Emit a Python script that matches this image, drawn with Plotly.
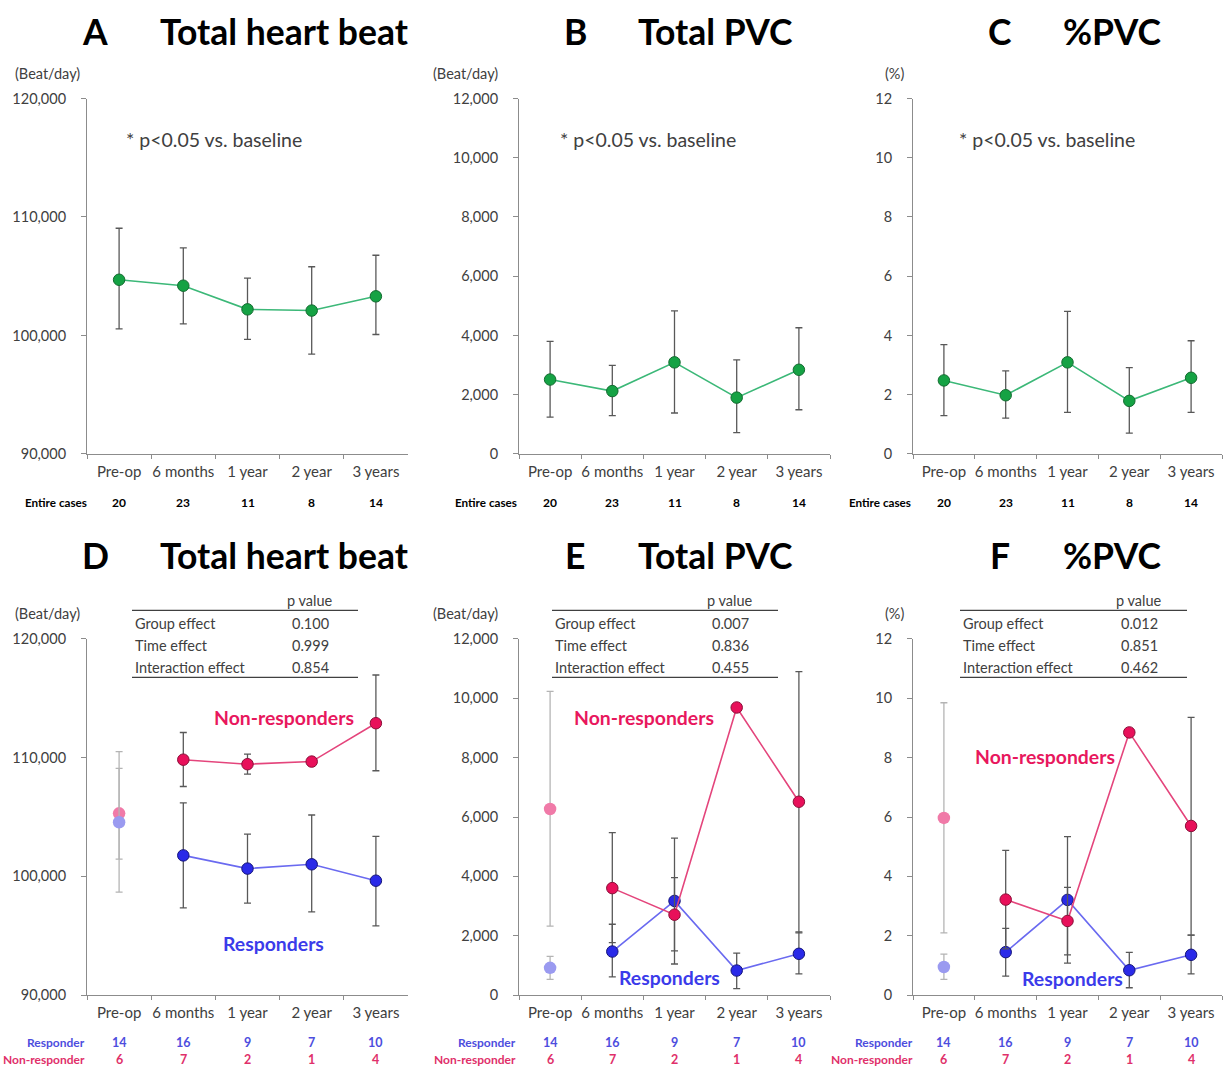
import plotly.graph_objects as go

W, H = 1223, 1077

categories = ["Pre-op", "6 months", "1 year", "2 year", "3 years"]
entire_n = [20, 23, 11, 8, 14]
responder_n = [14, 16, 9, 7, 10]
nonresponder_n = [6, 7, 2, 1, 4]

# Panel A - Total heart beat (entire cases)
hb_mean = [104700, 104200, 102200, 102100, 103300]
hb_upper = [109050, 107400, 104830, 105800, 106770]
hb_lower = [100550, 100970, 99670, 98420, 100080]
# Panel B - Total PVC
pvc_mean = [2510, 2120, 3090, 1900, 2840]
pvc_upper = [3800, 2990, 4830, 3175, 4260]
pvc_lower = [1240, 1290, 1380, 720, 1490]
# Panel C - %PVC
ppvc_mean = [2.48, 1.98, 3.09, 1.79, 2.57]
ppvc_upper = [3.69, 2.80, 4.81, 2.91, 3.82]
ppvc_lower = [1.29, 1.21, 1.40, 0.70, 1.40]

# Panel D - Total heart beat by group
hb_r_mean = [104560, 101770, 100660, 101020, 99640]
hb_r_upper = [109090, 106190, 103560, 105170, 103370]
hb_r_lower = [101450, 97350, 97760, 97020, 95830]
hb_nr_mean = [105310, 109830, 109450, 109670, 112900]
hb_nr_upper = [110500, 112120, 110300, 109670, 116960]
hb_nr_lower = [98680, 107570, 108620, 109670, 108900]
# Panel E - Total PVC by group
pvc_r_mean = [920, 1470, 3175, 830, 1394]
pvc_r_upper = [1305, 2389, 3960, 1416, 2135]
pvc_r_lower = [531, 619, 1493, 221, 719]
pvc_nr_mean = [6272, 3606, 2710, 9690, 6515]
pvc_nr_upper = [10232, 5476, 5288, 9690, 10896]
pvc_nr_lower = [2323, 1770, 1051, 9690, 2102]
# Panel F - %PVC by group
ppvc_r_mean = [0.95, 1.45, 3.21, 0.84, 1.36]
ppvc_r_upper = [1.38, 2.25, 3.63, 1.44, 2.02]
ppvc_r_lower = [0.53, 0.64, 1.36, 0.25, 0.72]
ppvc_nr_mean = [5.97, 3.22, 2.50, 8.85, 5.70]
ppvc_nr_upper = [9.85, 4.88, 5.34, 8.85, 9.36]
ppvc_nr_lower = [2.10, 1.56, 1.08, 8.85, 2.02]

# p-value tables
effects = ["Group effect", "Time effect", "Interaction effect"]
p_hb = ["0.100", "0.999", "0.854"]
p_pvc = ["0.007", "0.836", "0.455"]
p_ppvc = ["0.012", "0.851", "0.462"]

FONT = "Lato"
AXIS_COL = "#8c8c8c"
TXT = "#404040"
ERR = "#585858"
ERR_LIGHT = "#b4b4b4"
GREEN_FILL, GREEN_EDGE, GREEN_LINE = "#15a244", "#136b30", "#3cb878"
NR_FILL, NR_EDGE, NR_LINE = "#e8105a", "#8a0f38", "#e4457c"
R_FILL, R_EDGE, R_LINE = "#2a2ae8", "#15157a", "#6a6af0"
NR_LIGHT, R_LIGHT = "#f07aa8", "#9a9af0"
NR_TXT, R_TXT = "#e8175d", "#3b3bea"
NR_CNT, R_CNT = "#e0306a", "#4d4dde"

fig = go.Figure()


def px_x(p):
    return p / W


def px_y(p):
    return 1 - p / H


def err(mean, up, lo):
    return ([u - m for u, m in zip(up, mean)], [m - l for m, l in zip(mean, lo)])


def add_trace(n, x, mean, up, lo, fill, edge, line, ecol, mode="lines+markers", lw=1.6, size=11.5, ew=1):
    e_up, e_lo = err(mean, up, lo)
    fig.add_trace(go.Scatter(
        x=x, y=mean, mode=mode, xaxis="x" + ("" if n == 1 else str(n)),
        yaxis="y" + ("" if n == 1 else str(n)),
        line=dict(color=line, width=lw),
        marker=dict(size=size, color=fill, line=dict(color=edge, width=ew)),
        error_y=dict(type="data", symmetric=False, array=e_up, arrayminus=e_lo,
                     color=ecol, thickness=1.3, width=3.5),
        showlegend=False, hoverinfo="skip"))


# Top panels
add_trace(1, categories, hb_mean, hb_upper, hb_lower, GREEN_FILL, GREEN_EDGE, GREEN_LINE, ERR)
add_trace(2, categories, pvc_mean, pvc_upper, pvc_lower, GREEN_FILL, GREEN_EDGE, GREEN_LINE, ERR)
add_trace(3, categories, ppvc_mean, ppvc_upper, ppvc_lower, GREEN_FILL, GREEN_EDGE, GREEN_LINE, ERR)

# Bottom panels
groups = [
    (4, hb_r_mean, hb_r_upper, hb_r_lower, hb_nr_mean, hb_nr_upper, hb_nr_lower),
    (5, pvc_r_mean, pvc_r_upper, pvc_r_lower, pvc_nr_mean, pvc_nr_upper, pvc_nr_lower),
    (6, ppvc_r_mean, ppvc_r_upper, ppvc_r_lower, ppvc_nr_mean, ppvc_nr_upper, ppvc_nr_lower),
]
for n, rm, ru, rl, nm, nu, nl in groups:
    # pre-op (lighter, not connected)
    add_trace(n, categories[:1], nm[:1], nu[:1], nl[:1], NR_LIGHT, NR_LIGHT, NR_LIGHT, ERR_LIGHT,
              mode="markers", size=12.5, ew=0)
    add_trace(n, categories[:1], rm[:1], ru[:1], rl[:1], R_LIGHT, R_LIGHT, R_LIGHT, ERR_LIGHT,
              mode="markers", size=12.5, ew=0)
    add_trace(n, categories[1:], rm[1:], ru[1:], rl[1:], R_FILL, R_EDGE, R_LINE, ERR)
    add_trace(n, categories[1:], nm[1:], nu[1:], nl[1:], NR_FILL, NR_EDGE, NR_LINE, ERR)

# Panel geometry in pixels: (x0, x1, ytop, ybottom)
panels = {
    1: (87, 408, 91, 452),
    2: (519, 830, 91, 452),
    3: (913, 1222, 91, 452),
    4: (87, 408, 640, 1002),
    5: (519, 830, 640, 1002),
    6: (913, 1222, 640, 1002),
}
yranges = {1: ([90000, 120000], 10000, ",d"), 2: ([0, 12000], 2000, ",d"), 3: ([0, 12], 2, "d"),
           4: ([90000, 120000], 10000, ",d"), 5: ([0, 12000], 2000, ",d"), 6: ([0, 12], 2, "d")}

layout = dict(width=W, height=H, margin=dict(l=0, r=0, t=0, b=0),
              paper_bgcolor="white", plot_bgcolor="white", showlegend=False,
              font=dict(family=FONT, color=TXT))
for n, (x0, x1, yt, yb) in panels.items():
    sfx = "" if n == 1 else str(n)
    rng, dt, fmt = yranges[n]
    layout["xaxis" + sfx] = dict(
        domain=[px_x(x0), px_x(x1)], anchor="y" + sfx, type="category",
        categoryorder="array", categoryarray=categories, range=[-0.5, 4.5],
        showline=True, linecolor=AXIS_COL, linewidth=1, ticks="outside", ticklen=4,
        tickcolor=AXIS_COL, tickson="boundaries", showgrid=False, zeroline=False, tickangle=0,
        tickfont=dict(family=FONT, size=15, color=TXT), ticklabelstandoff=4, fixedrange=True)
    layout["yaxis" + sfx] = dict(
        domain=[px_y(yb), px_y(yt)], anchor="x" + sfx, range=rng, dtick=dt, tick0=rng[0],
        tickformat=fmt, showline=True, linecolor=AXIS_COL, linewidth=1, ticks="outside",
        ticklen=5, tickcolor=AXIS_COL, showgrid=False, zeroline=False,
        tickfont=dict(family=FONT, size=14.5, color=TXT), ticklabelstandoff=12, fixedrange=True)
fig.update_layout(**layout)

ann = []
shapes = []


def text(x, y, s, size, color="#000000", xanchor="center", bold=False):
    ann.append(dict(x=px_x(x), y=px_y(y), xref="paper", yref="paper", text=("<b>%s</b>" % s) if bold else s,
                    showarrow=False, xanchor=xanchor, yanchor="middle",
                    font=dict(family=FONT, size=size, color=color)))


# Titles
titles = [("A", "Total heart beat", 95, 158, 23), ("B", "Total PVC", 575, 636, 23), ("C", "%PVC", 1000, 1061, 23),
          ("D", "Total heart beat", 95, 158, 555), ("E", "Total PVC", 575, 636, 555), ("F", "%PVC", 1000, 1061, 555)]
for letter, t, lx, tx, ty in titles:
    text(lx, ty, letter, 35.5, bold=True)
    text(tx, ty, t, 35.5, xanchor="left", bold=True)

# units
for (ux, uy, u) in [(13, 66, "(Beat/day)"), (431, 66, "(Beat/day)"), (883, 66, "(%)"),
                    (13, 614, "(Beat/day)"), (431, 614, "(Beat/day)"), (883, 614, "(%)")]:
    text(ux, uy, u, 14.5, color=TXT, xanchor="left")

# significance note
for nx in [124, 558, 957]:
    text(nx, 133, "* p<0.05 vs. baseline", 19.5, color=TXT, xanchor="left")

# count rows
for n, lab_right in [(1, 89), (2, 519), (3, 913)]:
    sfx = "" if n == 1 else str(n)
    text(lab_right, 501, "Entire cases", 11.7, xanchor="right", bold=True)
    for c, v in zip(categories, entire_n):
        ann.append(dict(x=c, y=px_y(501), xref="x" + sfx, yref="paper", text="<b>%d</b>" % v, showarrow=False,
                        yanchor="middle", font=dict(family=FONT, size=12, color="#000000")))
for n, lab_right in [(4, 87), (5, 518), (6, 915)]:
    sfx = str(n)
    text(lab_right, 1050, "Responder", 12, color=R_CNT, xanchor="right", bold=True)
    text(lab_right, 1067, "Non-responder", 12, color=NR_CNT, xanchor="right", bold=True)
    for c, v1, v2 in zip(categories, responder_n, nonresponder_n):
        ann.append(dict(x=c, y=px_y(1050), xref="x" + sfx, yref="paper", text="<b>%d</b>" % v1, showarrow=False,
                        yanchor="middle", font=dict(family=FONT, size=12.5, color=R_CNT)))
        ann.append(dict(x=c, y=px_y(1067), xref="x" + sfx, yref="paper", text="<b>%d</b>" % v2, showarrow=False,
                        yanchor="middle", font=dict(family=FONT, size=12.5, color=NR_CNT)))

# p-value tables
for (lx0, lx1, vx, pv) in [(132, 358, 310, p_hb), (552, 778, 730, p_pvc), (960, 1187, 1139, p_ppvc)]:
    text(vx, 601, "p value", 14.5, color=TXT)
    for yy in (611, 679):
        shapes.append(dict(type="line", xref="paper", yref="paper", x0=px_x(lx0), x1=px_x(lx1),
                           y0=px_y(yy), y1=px_y(yy), line=dict(color="#404040", width=1.2)))
    for yy, e, p in zip([624, 647, 669], effects, pv):
        text(lx0 + 1, yy, e, 14.5, color=TXT, xanchor="left")
        text(vx, yy, p, 14.5, color=TXT)

# group labels
for (nx, ny, rx, ry) in [(284, 720, 273, 949), (644, 720, 669, 984), (1045, 759, 1072, 985)]:
    text(nx, ny, "Non-responders", 19.4, color=NR_TXT, bold=True)
    text(rx, ry, "Responders", 19.4, color=R_TXT, bold=True)

fig.update_layout(annotations=ann, shapes=shapes)
fig.write_html(
    "out.html",
    config={"displayModeBar": False},
    post_script=(
        "document.documentElement.style.margin='0px';"
        "document.body.style.margin='0px';document.body.style.padding='0px';"
        "document.documentElement.style.overflow='hidden';document.body.style.overflow='hidden';"
        "var d=document.getElementById('{plot_id}');"
        "d.style.position='fixed';d.style.top='0px';d.style.left='0px';"
    ),
)
